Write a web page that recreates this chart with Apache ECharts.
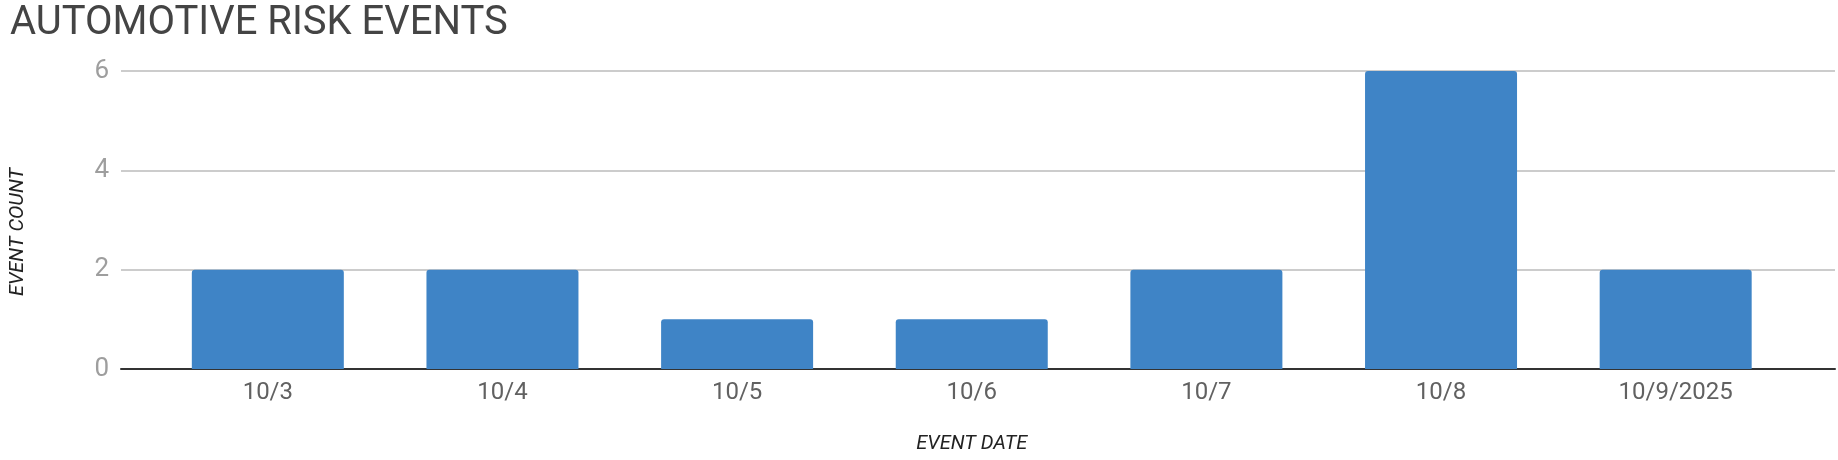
<!DOCTYPE html>
<html>
<head>
<meta charset="utf-8">
<script src="https://cdn.jsdelivr.net/npm/echarts@6/dist/echarts.min.js"></script>
<style>
html,body{margin:0;padding:0;background:#fff;}
#chart{width:1838px;height:460px;}
</style>
</head>
<body>
<div id="chart"></div>
<script>
const categories = ['10/3', '10/4', '10/5', '10/6', '10/7', '10/8', '10/9/2025'];
const eventCounts = [2, 2, 1, 1, 2, 6, 2];
const yTicks = [0, 2, 4, 6];

const chart = echarts.init(document.getElementById('chart'));
const yMin = yTicks[0], yMax = yTicks[yTicks.length - 1], yStep = yTicks[1] - yTicks[0];
chart.setOption({
  animation: false,
  title: {
    text: 'AUTOMOTIVE RISK EVENTS',
    left: 5, top: -1,
    textStyle: { fontFamily: 'Roboto', fontSize: 40, fontWeight: 'normal', color: '#444444' }
  },
  grid: [
    { left: 109, right: 3, top: 71, bottom: 91, containLabel: false },
    { left: 150.5, right: 45, top: 71, bottom: 91, containLabel: false }
  ],
  xAxis: [
    {
      gridIndex: 0, type: 'value', min: 0, max: 1,
      axisLine: { show: true, lineStyle: { color: '#333333', width: 2 } },
      axisTick: { show: false }, axisLabel: { show: false }, splitLine: { show: false }
    },
    {
      gridIndex: 1, type: 'category', data: categories,
      name: 'EVENT DATE', nameLocation: 'middle', nameGap: 65,
      nameTextStyle: { fontFamily: 'Roboto', fontStyle: 'italic', fontSize: 20, color: '#222222' },
      axisLine: { show: false }, axisTick: { show: false },
      axisLabel: { margin: 12, fontFamily: 'Roboto', fontSize: 24, color: '#616161' }
    }
  ],
  yAxis: [
    {
      gridIndex: 0, type: 'value', min: yMin, max: yMax, interval: yStep,
      name: 'EVENT COUNT', nameLocation: 'middle', nameRotate: 90, nameGap: 93,
      nameTextStyle: { fontFamily: 'Roboto', fontStyle: 'italic', fontSize: 20, color: '#222222', padding: [0, 24, 0, 0] },
      axisLine: { show: false }, axisTick: { show: false },
      axisLabel: { margin: 12, fontFamily: 'Roboto', fontSize: 26, color: '#9e9e9e' },
      splitLine: { show: true, lineStyle: { color: '#cccccc', width: 2 } }
    },
    {
      gridIndex: 1, type: 'value', min: yMin, max: yMax, interval: yStep,
      axisLine: { show: false }, axisTick: { show: false }, axisLabel: { show: false }, splitLine: { show: false }
    }
  ],
  series: [
    {
      type: 'bar', xAxisIndex: 1, yAxisIndex: 1, data: eventCounts,
      barWidth: 152, z: 1,
      itemStyle: { color: '#3f84c6', borderRadius: [3, 3, 0, 0] }
    }
  ]
});
</script>
</body>
</html>
